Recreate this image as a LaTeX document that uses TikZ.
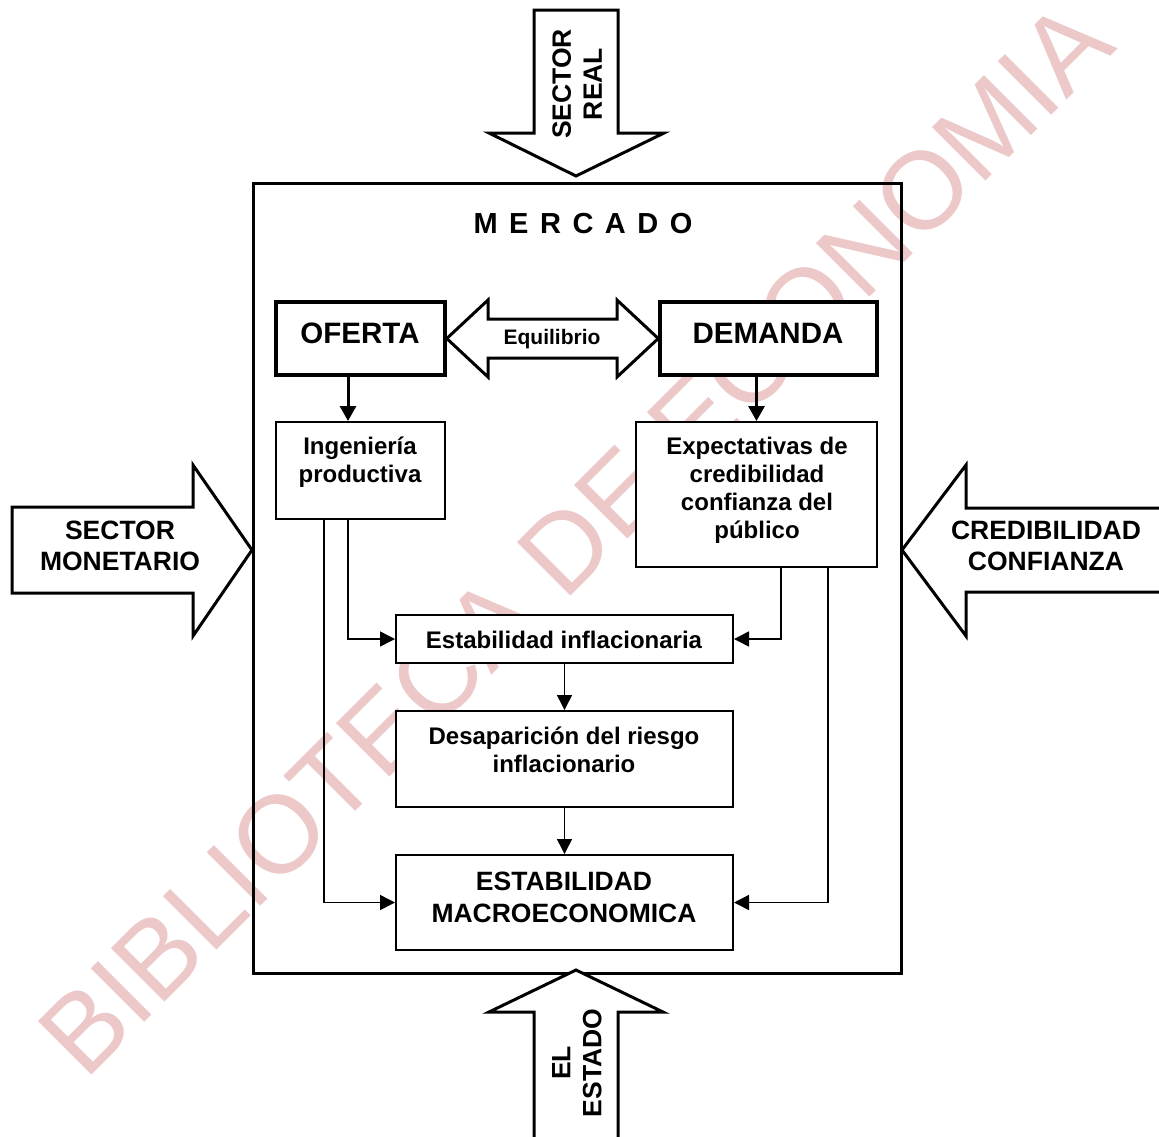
\documentclass[tikz,border=0pt]{standalone}
\usepackage{fontspec}
\setmainfont{Liberation Sans}
\usetikzlibrary{arrows.meta}
\definecolor{wmpink}{RGB}{236,200,200}
\begin{document}
\begin{tikzpicture}[x=1pt,y=-1pt,
  bigarrow/.style={draw, line width=3pt, fill=white, line join=miter, miter limit=10},
  thickbox/.style={draw, line width=3.5pt, fill=white, inner sep=0pt},
  thinbox/.style={draw, line width=2pt, fill=white, inner sep=0pt},
  lbl/.style={font=\bfseries\fontsize{24}{28.5}\selectfont, align=center, inner sep=0pt},
  biglbl/.style={font=\bfseries\fontsize{26.5}{31}\selectfont, align=center, inner sep=0pt},
  conn/.style={line width=1.5pt, -{Triangle[length=15pt,width=15pt]}},
  thickconn/.style={line width=3pt, -{Triangle[length=15pt,width=16pt]}}]
\useasboundingbox (0,0) rectangle (1159,1136);
\clip (0,0) rectangle (1159,1136);

% watermark
\node[font=\fontsize{110}{110}\selectfont, text=wmpink, rotate=45, anchor=base west, inner sep=0pt] (wm) at (85,1082) {BIBLIOTECA DE ECONOMIA};

% market frame
\node[draw, line width=3pt, minimum width=648pt, minimum height=790pt, inner sep=0pt] (mercado) at (577,578) {};
\node[font=\bfseries\fontsize{29}{29}\selectfont, inner sep=0pt] (mercadoT) at (583,224)
  {M\hspace{11.5pt}E\hspace{11.5pt}R\hspace{11.5pt}C\hspace{11.5pt}A\hspace{11.5pt}D\hspace{11.5pt}O};

% outer arrows
\draw[bigarrow] (534,10) -- (618,10) -- (618,133) -- (664,133) -- (576,176) -- (489,133) -- (534,133) -- cycle;
\node[biglbl, rotate=90] (sreal) at (577,84) {SECTOR\\REAL};

\draw[bigarrow] (534,1145) -- (534,1012) -- (489,1012) -- (576,970) -- (663,1012) -- (618,1012) -- (618,1145);
\node[biglbl, rotate=90] (estado) at (577,1063) {EL\\ESTADO};

\draw[bigarrow] (12,507) -- (193,507) -- (193,465) -- (252,550) -- (193,636) -- (193,593) -- (12,593) -- cycle;
\node[biglbl] (smon) at (120,546) {SECTOR\\MONETARIO};

\draw[bigarrow] (1165,508) -- (966,508) -- (966,465) -- (902,550) -- (966,636) -- (966,592) -- (1165,592);
\node[biglbl] (cred) at (1046,546) {CREDIBILIDAD\\CONFIANZA};

% oferta / demanda
\node[thickbox, minimum width=169pt, minimum height=73pt] (oferta) at (360.5,338.5) {};
\node[font=\bfseries\fontsize{29.5}{29.5}\selectfont, inner sep=0pt] (ofertaT) at (360,333) {OFERTA};
\node[thickbox, minimum width=217pt, minimum height=73pt] (demanda) at (768.5,338.5) {};
\node[font=\bfseries\fontsize{29.5}{29.5}\selectfont, inner sep=0pt] (demandaT) at (768,333) {DEMANDA};

\draw[bigarrow] (oferta.east) -- (488,300) -- (488,319) -- (617,319) -- (617,300) -- (demanda.west) -- (617,377) -- (617,358) -- (488,358) -- (488,377) -- cycle;
\node[font=\bfseries\fontsize{21}{21}\selectfont, inner sep=0pt] (equil) at (552,339) {Equilibrio};

% inner boxes
\node[thinbox, minimum width=169pt, minimum height=97pt] (ing) at (360.5,470.5) {};
\node[lbl] (ingT) at (360,462) {Ingeniería\\productiva};
\node[thinbox, minimum width=241pt, minimum height=145pt] (exp) at (756.5,494.5) {};
\node[lbl, font=\bfseries\fontsize{24}{28}\selectfont] (expT) at (757,490) {Expectativas de\\credibilidad\\confianza del\\público};
\node[thinbox, minimum width=337pt, minimum height=48pt] (estinf) at (564.5,639) {};
\node[lbl] (estinfT) at (564,640) {Estabilidad inflacionaria};
\node[thinbox, minimum width=337pt, minimum height=96pt] (desap) at (564.5,759) {};
\node[lbl] (desapT) at (564,750) {Desaparición del riesgo\\inflacionario};
\node[thinbox, minimum width=337pt, minimum height=95pt] (macro) at (564.5,902.5) {};
\node[font=\bfseries\fontsize{26.5}{32}\selectfont, align=center, inner sep=0pt] (macroT) at (564,897) {ESTABILIDAD\\MACROECONOMICA};

% connectors
\draw[thickconn] ([xshift=-12.5pt]oferta.south) -- ([xshift=-12.5pt]ing.north);
\draw[thickconn] (exp.north |- demanda.south) -- (exp.north);
\draw[conn] ([xshift=-12.5pt]ing.south) |- (estinf.west);
\draw[conn] ([xshift=-36.5pt]ing.south) |- (macro.west);
\draw[conn] ([xshift=24.5pt]exp.south) |- (estinf.east);
\draw[conn] ([xshift=71.5pt]exp.south) |- (macro.east);
\draw[conn] (estinf.south) -- (desap.north);
\draw[conn] (desap.south) -- (macro.north);
\end{tikzpicture}
\end{document}
